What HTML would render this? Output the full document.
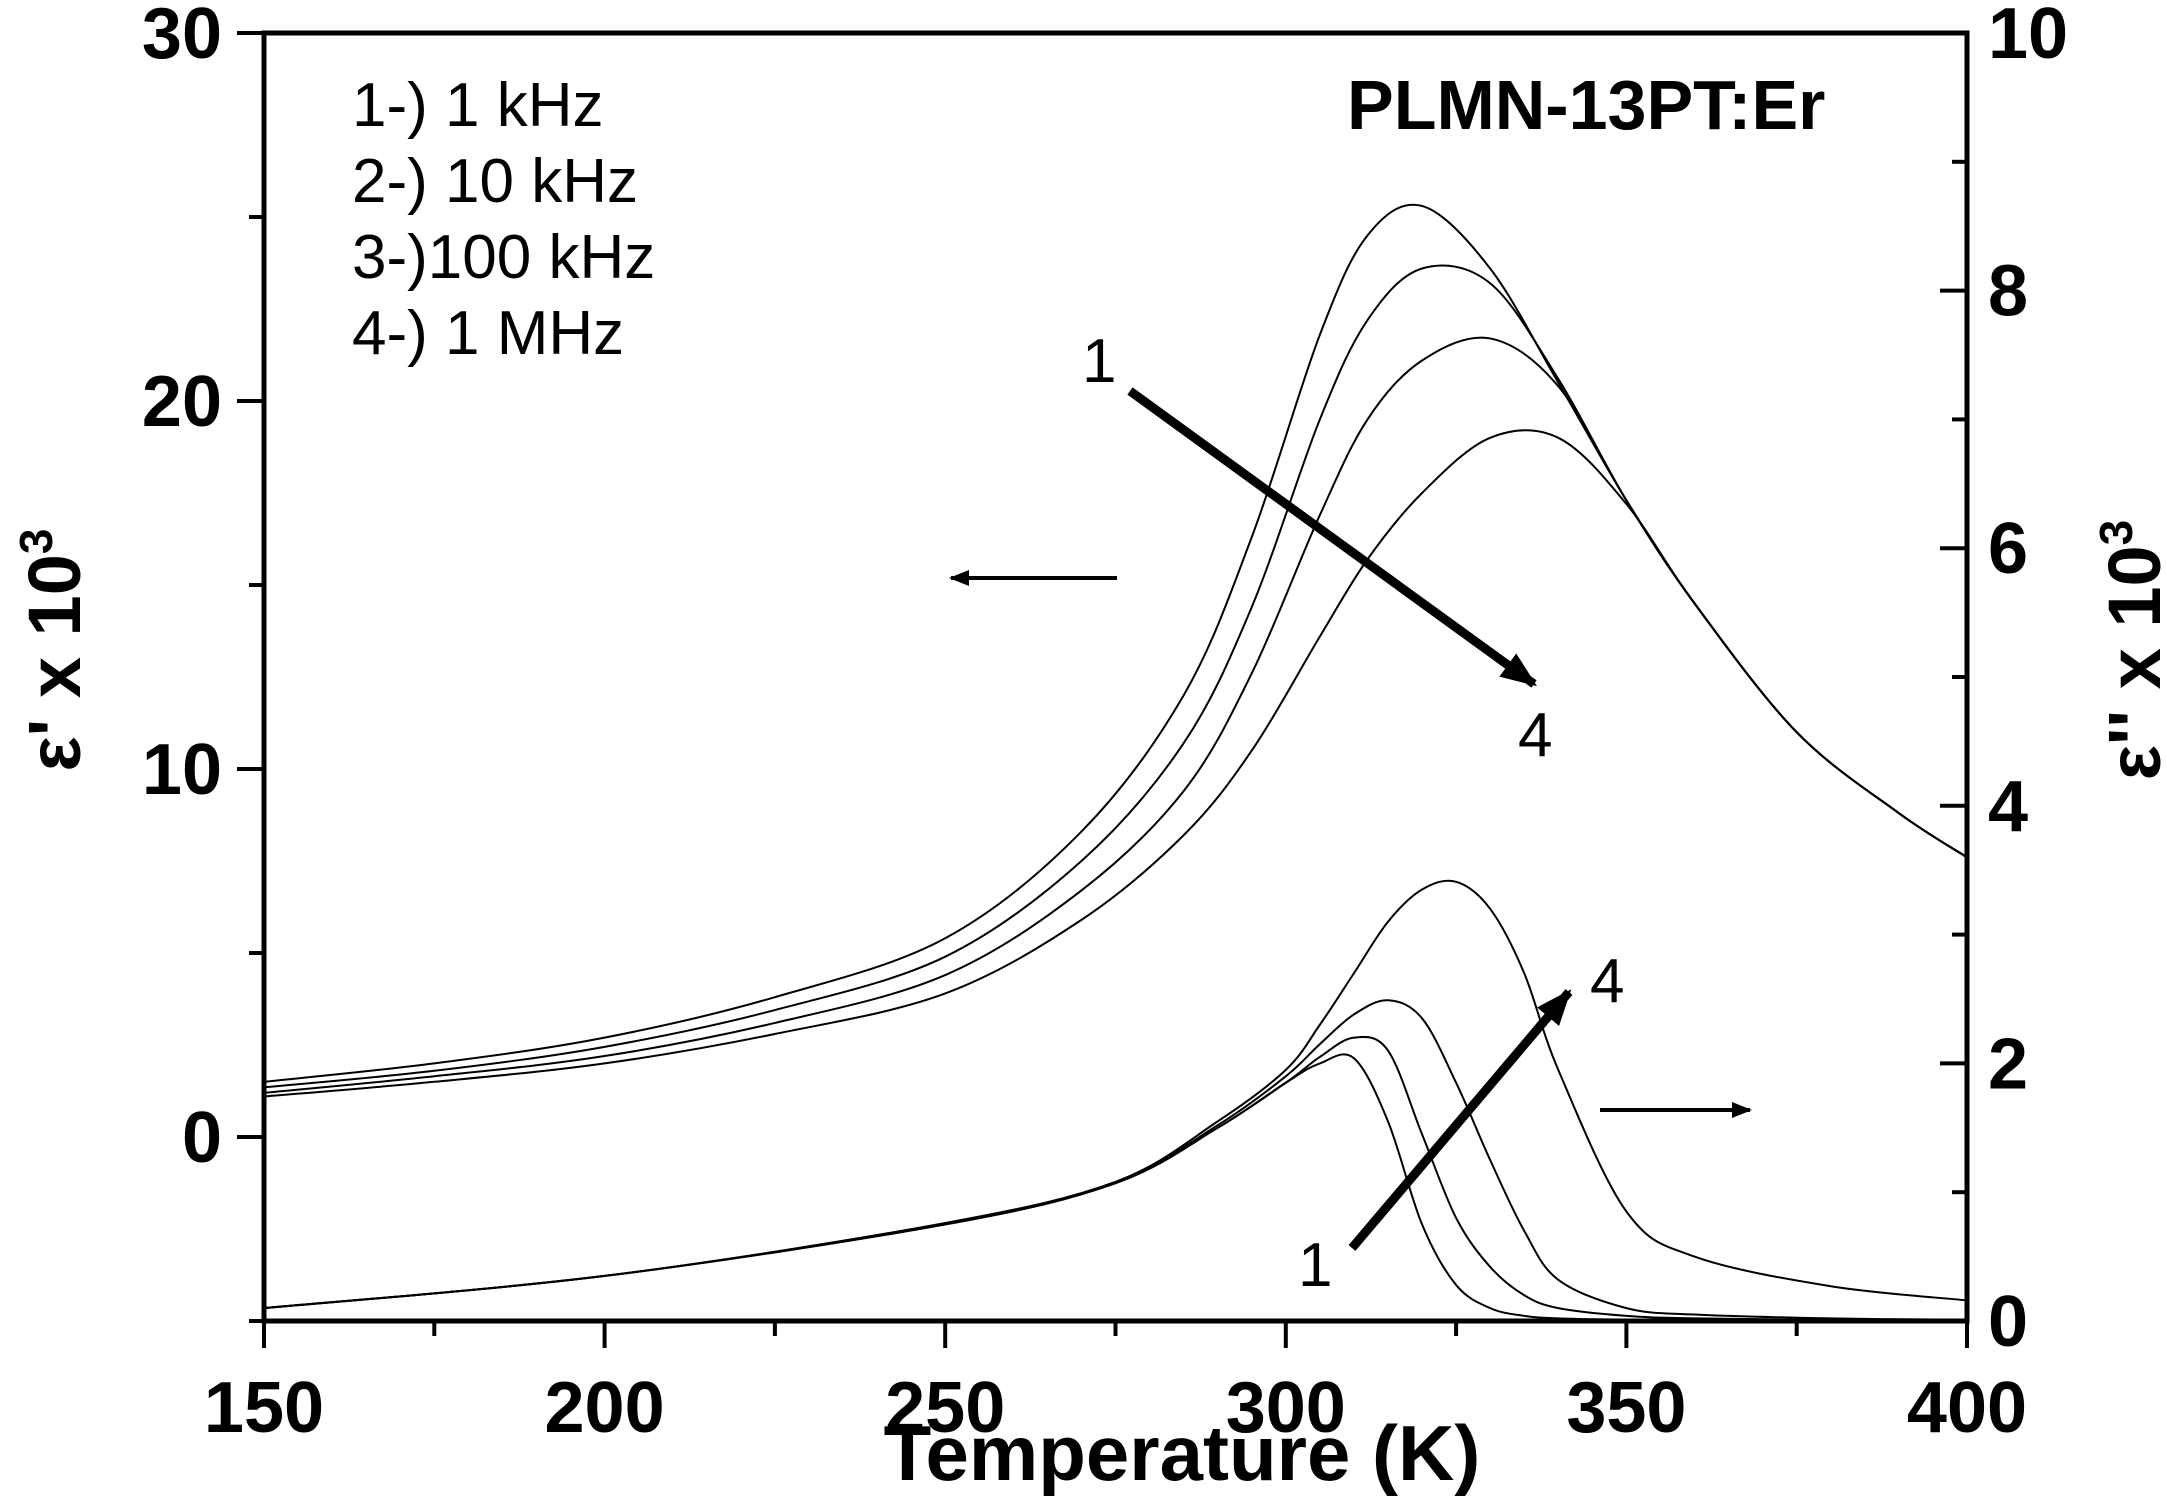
<!DOCTYPE html>
<html><head><meta charset="utf-8"><style>
html,body{margin:0;padding:0;background:#fff}
svg text{font-family:"Liberation Sans",Arial,sans-serif}
</style></head><body>
<svg id="chart" width="2167" height="1504" viewBox="0 0 2167 1504" xmlns="http://www.w3.org/2000/svg">
<defs>
<marker id="ah" viewBox="0 0 10 10" refX="9" refY="5" markerWidth="4" markerHeight="4" orient="auto"><path d="M0,1 L10,5 L0,9 z" fill="#000"/></marker>
<marker id="ah2" viewBox="0 0 10 10" refX="9" refY="5" markerWidth="7" markerHeight="5" orient="auto"><path d="M0,1 L10,5 L0,9 z" fill="#000"/></marker>
</defs>
<g id="curves"></g>
<g id="axes"></g>
<g font-size="62">
<text x="352" y="126">1-) 1 kHz</text>
<text x="352" y="202">2-) 10 kHz</text>
<text x="352" y="278">3-)100 kHz</text>
<text x="352" y="354">4-) 1 MHz</text>
</g>
<text x="1347" y="129" font-size="70" font-weight="bold">PLMN-13PT:Er</text>
<g fill="none" stroke="#000">
<line x1="1130" y1="391" x2="1534" y2="684" stroke-width="9" marker-end="url(#ah)"/>
<line x1="1352" y1="1248" x2="1569" y2="992" stroke-width="9" marker-end="url(#ah)"/>
<line x1="1117" y1="578" x2="951" y2="578" stroke-width="4" marker-end="url(#ah2)"/>
<line x1="1600" y1="1110" x2="1750" y2="1110" stroke-width="4" marker-end="url(#ah2)"/>
</g>
<g font-size="62">
<text x="1082" y="382">1</text>
<text x="1518" y="756">4</text>
<text x="1298" y="1286">1</text>
<text x="1590" y="1002">4</text>
</g>
</svg>
<script>
const temps = [150,175,200,225,250,270,285,295,305,312,320,330,340,350,360,375,390,400];
const eps1 = [1.5,2.0,2.7,3.8,5.4,8.3,12,16.3,21.8,24.5,25.3,23.6,20.5,17.3,14.5,11,8.8,7.6];
const eps2 = [1.35,1.8,2.45,3.45,4.9,7.5,10.7,14.4,19.5,22.2,23.6,23.2,20.6,17.3,14.5,11,8.8,7.6];
const eps3 = [1.2,1.65,2.2,3.1,4.4,6.7,9.4,12.6,16.9,19.5,21.1,21.7,20.4,17.3,14.5,11,8.8,7.6];
const eps4 = [1.1,1.5,2.0,2.8,3.9,5.9,8.2,10.5,13.6,15.7,17.5,19.0,19.0,17.2,14.5,11,8.8,7.6];
const ltemps = [150,200,250,275,290,300,305,310,315,320,325,330,335,340,350,360,380,400];
const loss1 = [0.1,0.35,0.75,1.07,1.5,1.85,2.0,2.04,1.55,0.75,0.28,0.1,0.04,0.02,0.01,0.01,0.01,0.01];
const loss2 = [0.1,0.35,0.75,1.07,1.5,1.85,2.05,2.2,2.1,1.45,0.8,0.42,0.2,0.1,0.04,0.02,0.01,0.01];
const loss3 = [0.1,0.35,0.76,1.08,1.52,1.9,2.15,2.38,2.49,2.35,1.85,1.25,0.7,0.32,0.1,0.05,0.02,0.01];
const loss4 = [0.1,0.35,0.76,1.08,1.55,1.95,2.3,2.7,3.1,3.35,3.41,3.2,2.7,1.95,0.85,0.5,0.27,0.16];
const xTicks = [150,200,250,300,350,400];
const yLeftTicks = [0,10,20,30];
const yRightTicks = [0,2,4,6,8,10];

const X0=264,X1=1967,Y0=1321,Y1=33;
const xs = t => X0+(t-150)/250*(X1-X0);
const yl = v => Y0-(v+5)/35*(Y0-Y1);
const yr = v => Y0-v/10*(Y0-Y1);
const NS='http://www.w3.org/2000/svg';
function mk(tag,attrs,parent){const e=document.createElementNS(NS,tag);for(const k in attrs)e.setAttribute(k,attrs[k]);parent.appendChild(e);return e;}
function smooth(pts){let d='M'+pts[0][0]+','+pts[0][1];for(let i=0;i<pts.length-1;i++){const p0=pts[Math.max(i-1,0)],p1=pts[i],p2=pts[i+1],p3=pts[Math.min(i+2,pts.length-1)];const c1=[p1[0]+(p2[0]-p0[0])/6,p1[1]+(p2[1]-p0[1])/6],c2=[p2[0]-(p3[0]-p1[0])/6,p2[1]-(p3[1]-p1[1])/6];d+=' C'+c1+' '+c2+' '+p2;}return d;}
const cg=document.getElementById('curves');
[eps1,eps2,eps3,eps4].forEach((s,i)=>{
 const p=mk('path',{d:smooth(temps.map((t,j)=>[xs(t),yl(s[j])])),fill:'none',stroke:'#000','stroke-width':2},cg);
 
 
});
[loss1,loss2,loss3,loss4].forEach((s,i)=>{
 const p=mk('path',{d:smooth(ltemps.map((t,j)=>[xs(t),yr(s[j])])),fill:'none',stroke:'#000','stroke-width':2},cg);
 
 
});
const ag=document.getElementById('axes');
const frame=mk('rect',{x:X0,y:Y1,width:X1-X0,height:Y0-Y1,fill:'none',stroke:'#000','stroke-width':5},ag);


for(let t=150;t<=400;t+=25){const major=(t%50===0);mk('line',{x1:xs(t),x2:xs(t),y1:Y0,y2:Y0+(major?27:15),stroke:'#000','stroke-width':4},ag);}
xTicks.forEach(t=>{const e=mk('text',{x:xs(t),y:1432,'font-size':72,'font-weight':'bold','text-anchor':'middle'},ag);e.textContent=t;
 
 });
for(let v=-5;v<=30;v+=5){const major=(v%10===0);mk('line',{x1:X0,x2:X0-(major?27:15),y1:yl(v),y2:yl(v),stroke:'#000','stroke-width':4},ag);}
yLeftTicks.forEach(v=>{const e=mk('text',{x:222,y:yl(v)+25,'font-size':72,'font-weight':'bold','text-anchor':'end'},ag);e.textContent=v;
 
 });
for(let v=0;v<=10;v+=1){const major=(v%2===0);mk('line',{x1:X1,x2:X1-(major?27:15),y1:yr(v),y2:yr(v),stroke:'#000','stroke-width':4},ag);}
yRightTicks.forEach(v=>{const e=mk('text',{x:1988,y:yr(v)+25,'font-size':72,'font-weight':'bold','text-anchor':'start'},ag);e.textContent=v;
 
 });
const xt=mk('text',{x:1182,y:1480,'font-size':78,'font-weight':'bold','text-anchor':'middle'},ag);xt.textContent='Temperature (K)';


const lt=mk('text',{x:0,y:0,'font-size':74,'font-weight':'bold','text-anchor':'middle',transform:'translate(80,650) rotate(-90)'},ag);
lt.innerHTML="ε' x 10<tspan dy='-28' font-size='46'>3</tspan>";


const rt=mk('text',{x:0,y:0,'font-size':74,'font-weight':'bold','text-anchor':'middle',transform:'translate(2160,650) rotate(-90)'},ag);
rt.innerHTML="ε'' x 10<tspan dy='-28' font-size='46'>3</tspan>";


</script>
</body></html>
